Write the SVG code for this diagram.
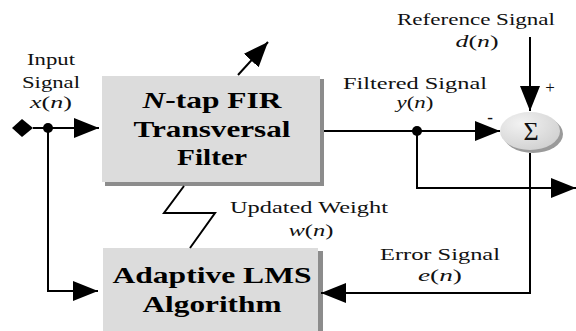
<svg xmlns="http://www.w3.org/2000/svg" width="576" height="331" viewBox="0 0 576 331">
  <defs>
    <marker id="head" markerUnits="userSpaceOnUse" markerWidth="27" markerHeight="21" refX="25" refY="10" orient="auto">
      <path d="M0,0 L25,10 L0,20 z" fill="#000"/>
    </marker>
    <radialGradient id="sumFill" cx="0.35" cy="0.3" r="0.8">
      <stop offset="0" stop-color="#f2f2f2"/>
      <stop offset="1" stop-color="#cfcfcf"/>
    </radialGradient>
    <style>
      .lbl { font-family: "Liberation Serif", "Times New Roman", serif; font-size: 17px; fill: #111; }
      .blk { font-family: "Liberation Serif", "Times New Roman", serif; font-size: 23px; font-weight: bold; fill: #000; }
      .box { fill: #dcdcdc; }
      .shadow { fill: #8c8c8c; }
      .wire { fill: none; stroke: #000; stroke-width: 2; }
      .arrow { fill: none; stroke: #000; stroke-width: 2; marker-end: url(#head); }
    </style>
  </defs>

  <rect width="576" height="331" fill="#fff"/>

  <!-- FIR filter block -->
  <g id="fir">
    <rect class="shadow" x="105" y="79" width="219" height="107"/>
    <rect class="box" x="102" y="76" width="218" height="106"/>
    <text class="blk" x="212" y="108" text-anchor="middle" textLength="139" lengthAdjust="spacingAndGlyphs"><tspan font-style="italic">N</tspan>-tap FIR</text>
    <text class="blk" x="212" y="137" text-anchor="middle" textLength="157" lengthAdjust="spacingAndGlyphs">Transversal</text>
    <text class="blk" x="212" y="165" text-anchor="middle" textLength="70" lengthAdjust="spacingAndGlyphs">Filter</text>
  </g>

  <!-- Adaptive LMS block -->
  <g id="lms">
    <rect class="shadow" x="106" y="251" width="217" height="82"/>
    <rect class="box" x="103" y="248" width="215" height="83"/>
    <text class="blk" x="212" y="283" text-anchor="middle" textLength="199" lengthAdjust="spacingAndGlyphs">Adaptive LMS</text>
    <text class="blk" x="212" y="312" text-anchor="middle" textLength="139" lengthAdjust="spacingAndGlyphs">Algorithm</text>
  </g>

  <!-- Summing junction -->
  <g id="sum">
    <ellipse cx="533" cy="134" rx="30" ry="19" fill="#9a9a9a"/>
    <ellipse cx="530" cy="131" rx="30" ry="19" fill="url(#sumFill)"/>
    <text x="531" y="140" text-anchor="middle" font-family="'Liberation Serif', 'DejaVu Serif', serif" font-size="26" fill="#111">Σ</text>
    <text class="lbl" x="550" y="93" text-anchor="middle">+</text>
    <text class="lbl" x="490" y="123" text-anchor="middle" font-weight="bold">-</text>
  </g>

  <!-- Signal labels -->
  <g id="labels">
    <text class="lbl" x="51" y="65" text-anchor="middle" textLength="48" lengthAdjust="spacingAndGlyphs">Input</text>
    <text class="lbl" x="51" y="88" text-anchor="middle" textLength="58" lengthAdjust="spacingAndGlyphs">Signal</text>
    <text class="lbl" x="51" y="108" text-anchor="middle" textLength="42" lengthAdjust="spacingAndGlyphs"><tspan font-style="italic">x</tspan>(<tspan font-style="italic">n</tspan>)</text>

    <text class="lbl" x="476" y="25" text-anchor="middle" textLength="158" lengthAdjust="spacingAndGlyphs">Reference Signal</text>
    <text class="lbl" x="477" y="47" text-anchor="middle" textLength="43" lengthAdjust="spacingAndGlyphs"><tspan font-style="italic">d</tspan>(<tspan font-style="italic">n</tspan>)</text>

    <text class="lbl" x="415" y="89" text-anchor="middle" textLength="144" lengthAdjust="spacingAndGlyphs">Filtered Signal</text>
    <text class="lbl" x="415" y="108" text-anchor="middle" textLength="37" lengthAdjust="spacingAndGlyphs"><tspan font-style="italic">y</tspan>(<tspan font-style="italic">n</tspan>)</text>

    <text class="lbl" x="309" y="213" text-anchor="middle" textLength="158" lengthAdjust="spacingAndGlyphs">Updated Weight</text>
    <text class="lbl" x="311" y="236" text-anchor="middle" textLength="45" lengthAdjust="spacingAndGlyphs"><tspan font-style="italic">w</tspan>(<tspan font-style="italic">n</tspan>)</text>

    <text class="lbl" x="440" y="260" text-anchor="middle" textLength="120" lengthAdjust="spacingAndGlyphs">Error Signal</text>
    <text class="lbl" x="440" y="281" text-anchor="middle" textLength="44" lengthAdjust="spacingAndGlyphs"><tspan font-style="italic">e</tspan>(<tspan font-style="italic">n</tspan>)</text>
  </g>

  <!-- Connectors -->
  <g id="connectors">
    <!-- input terminal, branch dot and feed into the filter -->
    <polygon points="12,128 22,119 33,128 22,137" fill="#000"/>
    <line class="arrow" x1="33" y1="128" x2="99" y2="128"/>
    <circle cx="48" cy="128" r="5" fill="#000"/>
    <!-- input to adaptive algorithm -->
    <polyline class="arrow" points="48,128 48,291 98,291"/>

    <!-- filter output to summing junction -->
    <line class="arrow" x1="324" y1="131" x2="500" y2="131"/>
    <circle cx="417" cy="131" r="5" fill="#000"/>
    <polyline class="arrow" points="417,131 417,188 576,188"/>

    <!-- reference signal into summing junction -->
    <line class="arrow" x1="530" y1="37" x2="530" y2="111"/>

    <!-- error signal back to the algorithm -->
    <polyline class="arrow" points="530,153 530,293 321,293"/>

    <!-- weight update (zigzag) -->
    <polyline class="wire" points="184,186 164,213 215,213 190,248"/>

    <!-- adjustable-filter arrow -->
    <line class="arrow" x1="238" y1="75" x2="268" y2="42"/>
  </g>
</svg>
